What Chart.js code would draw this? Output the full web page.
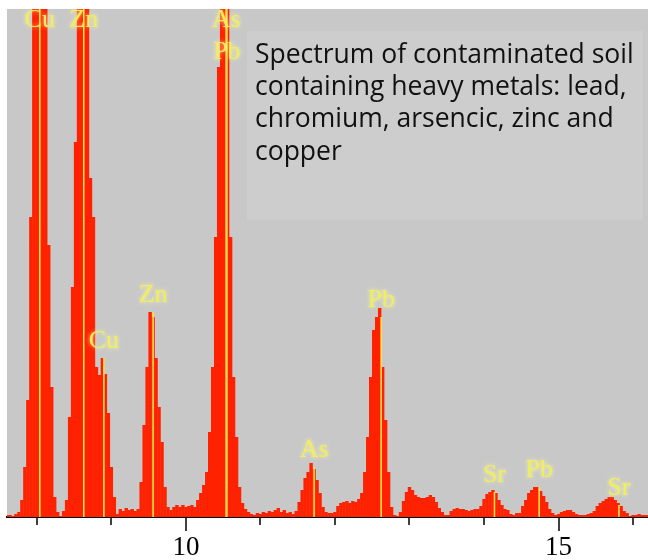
<!DOCTYPE html>
<html><head><meta charset="utf-8">
<script src="https://cdn.jsdelivr.net/npm/chart.js@4.4.1/dist/chart.umd.min.js"></script>
<style>html,body{margin:0;padding:0;background:#fff;overflow:hidden}</style>
</head><body>
<canvas id="c" width="648" height="560"></canvas>
<script>
// Channel energies (keV)
const energy = [
7.60,7.64,7.68,7.72,7.76,7.80,7.84,7.88,7.92,7.96,
8.00,8.04,8.08,8.12,8.16,8.20,8.24,8.28,8.32,8.36,8.40,8.44,8.48,8.52,8.56,8.60,8.64,8.68,8.72,8.76,8.80,8.84,8.88,8.92,8.96,
9.00,9.04,9.08,9.12,9.16,9.20,9.24,9.28,9.32,9.36,9.40,9.44,9.48,9.52,9.56,9.60,9.64,9.68,9.72,9.76,9.80,9.84,9.88,9.92,9.96,
10.00,10.04,10.08,10.12,10.16,10.20,10.24,10.28,10.32,10.36,10.40,10.44,10.48,10.52,10.56,10.60,10.64,10.68,10.72,10.76,10.80,10.84,10.88,10.92,10.96,
11.00,11.04,11.08,11.12,11.16,11.20,11.24,11.28,11.32,11.36,11.40,11.44,11.48,11.52,11.56,11.60,11.64,11.68,11.72,11.76,11.80,11.84,11.88,11.92,11.96,
12.00,12.04,12.08,12.12,12.16,12.20,12.24,12.28,12.32,12.36,12.40,12.44,12.48,12.52,12.56,12.60,12.64,12.68,12.72,12.76,12.80,12.84,12.88,12.92,12.96,
13.00,13.04,13.08,13.12,13.16,13.20,13.24,13.28,13.32,13.36,13.40,13.44,13.48,13.52,13.56,13.60,13.64,13.68,13.72,13.76,13.80,13.84,13.88,13.92,13.96,
14.00,14.04,14.08,14.12,14.16,14.20,14.24,14.28,14.32,14.36,14.40,14.44,14.48,14.52,14.56,14.60,14.64,14.68,14.72,14.76,14.80,14.84,14.88,14.92,14.96,
15.00,15.04,15.08,15.12,15.16,15.20,15.24,15.28,15.32,15.36,15.40,15.44,15.48,15.52,15.56,15.60,15.64,15.68,15.72,15.76,15.80,15.84,15.88,15.92,15.96,
16.00,16.04,16.08,16.12,16.16,16.20
];
// Counts per channel (arbitrary units; tallest peaks run off the top)
const counts = [
2,2,1,3,5,17,50,117,300,600,
600,600,600,600,272,130,20,5,1,6,
17,100,230,375,600,600,600,600,339,300,
150,142,159,143,104,50,20,3,8,6,
9,7,8,6,8,35,92,150,205,200,
159,110,75,30,10,7,10,12,10,12,
10,11,12,10,17,24,32,45,85,150,
280,450,600,600,600,280,140,80,30,14,
8,5,3,2,4,3,5,4,6,5,
7,9,5,7,4,5,3,6,15,27,
39,45,54,48,37,24,10,5,4,4,
5,11,14,15,16,14,16,15,18,24,
45,80,140,187,200,209,150,97,45,10,
2,1,5,16,25,30,27,22,20,19,
19,20,22,20,15,9,5,2,2,6,
8,9,8,8,7,6,7,8,8,11,
18,23,25,27,24,17,12,8,7,3,
2,4,4,11,17,24,27,30,30,26,
21,15,8,4,2,3,5,6,7,7,
5,3,2,2,2,3,4,6,11,14,
16,18,20,20,17,14,11,6,4,1,
2,2,3,2,2,2
];
// Element line markers
const lineEnergy  = [8.04, 8.63, 8.90, 9.56, 10.54, 10.55, 11.72, 12.62, 14.14, 14.74, 15.81];
const lineHeight  = [600, 600, 159, 205, 600, 600, 50, 200, 25, 30, 12];
const lineElement = ['Cu','Zn','Cu','Zn','As','Pb','As','Pb','Sr','Pb','Sr'];
// Axis ticks
const xTicks = [8, 9, 10, 11, 12, 13, 14, 15, 16];
const xTickLabels = {10: '10', 15: '15'};
// Caption
const captionLines = ['Spectrum of contaminated soil', 'containing heavy metals: lead,', 'chromium, arsencic, zinc and', 'copper'];

const decor = {
  id: 'decor',
  beforeDraw(chart) {
    const {ctx, chartArea: a} = chart;
    ctx.save();
    ctx.fillStyle = '#c8c8c8';
    ctx.fillRect(a.left, a.top, a.right - a.left, a.bottom - a.top);
    ctx.fillStyle = '#cdcdcd';
    ctx.fillRect(247, 31, 396, 189);
    ctx.fillStyle = '#111';
    ctx.font = '26.5px "Open Sans"';
    ctx.textAlign = 'left';
    ctx.textBaseline = 'alphabetic';
    captionLines.forEach((t, i) => ctx.fillText(t, 255, 63 + i * 32.2));
    ctx.restore();
  },
  afterDatasetsDraw(chart) {
    const {ctx, chartArea: a, scales: {x, y}} = chart;
    ctx.save();
    ctx.beginPath();
    ctx.rect(a.left, a.top, a.right - a.left, a.bottom - a.top);
    ctx.clip();
    ctx.strokeStyle = '#ffe04a';
    ctx.lineWidth = 1.6;
    lineEnergy.forEach((e, i) => {
      const px = x.getPixelForValue(e);
      const top = Math.max(y.getPixelForValue(lineHeight[i]), a.top);
      ctx.beginPath();
      ctx.moveTo(px, a.bottom);
      ctx.lineTo(px, top);
      ctx.stroke();
    });
    ctx.restore();
    // labels
    ctx.save();
    ctx.font = '26px "Liberation Serif", serif';
    ctx.textAlign = 'center';
    ctx.textBaseline = 'middle';
    ctx.fillStyle = '#f2ee5a';
    ctx.shadowColor = 'rgba(255,255,170,0.9)';
    ctx.shadowBlur = 4;
    let prevE = null, stack = 0;
    lineEnergy.forEach((e, i) => {
      const px = x.getPixelForValue(e);
      let ly = y.getPixelForValue(lineHeight[i]) - 17;
      if (ly < a.top + 11) ly = a.top + 11;
      if (prevE !== null && Math.abs(e - prevE) < 0.05) stack++; else stack = 0;
      ly += stack * 32;
      ctx.fillText(lineElement[i], px, ly);
      prevE = e;
    });
    ctx.restore();
  },
  afterDraw(chart) {
    const {ctx, chartArea: a, scales: {x}} = chart;
    ctx.save();
    ctx.strokeStyle = '#000';
    ctx.lineWidth = 1.5;
    xTicks.forEach(v => {
      const px = Math.round(x.getPixelForValue(v));
      const len = (v % 5 === 0) ? 14 : 8;
      ctx.beginPath();
      ctx.moveTo(px, a.bottom);
      ctx.lineTo(px, a.bottom + len);
      ctx.stroke();
    });
    ctx.restore();
  }
};

new Chart(document.getElementById('c'), {
  type: 'bar',
  data: {
    datasets: [{
      data: energy.map((e, i) => ({x: e, y: counts[i]})),
      backgroundColor: '#ff2200',
      borderWidth: 0,
      barPercentage: 1.15,
      categoryPercentage: 1,
      grouped: false
    }]
  },
  options: {
    responsive: false,
    animation: false,
    devicePixelRatio: 1,
    layout: {padding: {left: 7, top: 9, right: 0, bottom: 0}},
    plugins: {legend: {display: false}, tooltip: {enabled: false}},
    scales: {
      x: {
        type: 'linear', min: 7.6, max: 16.2, offset: false,
        afterBuildTicks(s) { s.ticks = xTicks.map(v => ({value: v})); },
        ticks: {
          callback: v => xTickLabels[v] || '',
          font: {family: '"Liberation Serif"', size: 27},
          color: '#000', padding: 1, maxRotation: 0, autoSkip: false
        },
        grid: {display: true, drawOnChartArea: false, drawTicks: true, tickLength: 14, color: 'rgba(0,0,0,0)', offset: false},
        border: {display: true, color: '#000', width: 2},
        afterFit(s) { s.height = 43; }
      },
      y: {display: false, min: 0, max: 508}
    }
  },
  plugins: [decor]
});
</script>
</body></html>
